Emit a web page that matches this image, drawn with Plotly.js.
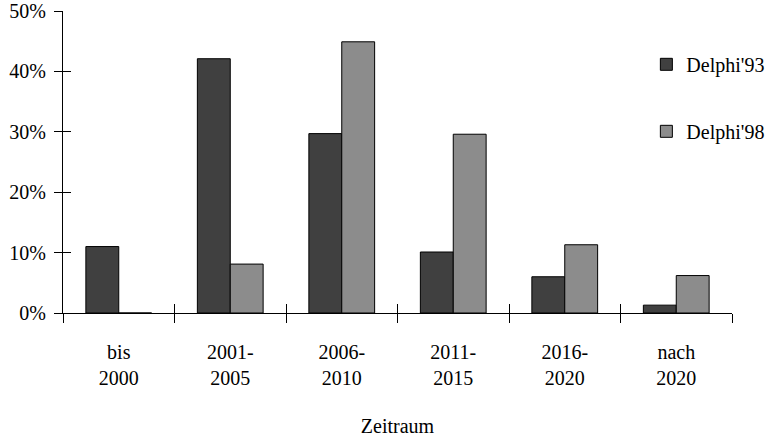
<!DOCTYPE html>
<html><head><meta charset="utf-8">
<script src="https://cdn.plot.ly/plotly-3.0.1.min.js"></script>
<style>
html,body{margin:0;padding:0;background:#fff}
#chart text{font-family:'Liberation Serif',serif !important}
</style>
</head><body><div id="chart"></div>
<script>
const categories = ['bis<br>2000', '2001-<br>2005', '2006-<br>2010', '2011-<br>2015', '2016-<br>2020', 'nach<br>2020'];
const delphi93 = [11.0, 42.1, 29.7, 10.1, 6.0, 1.3];
const delphi98 = [0, 8.1, 44.9, 29.6, 11.3, 6.2];
const yTickVals = [0, 10, 20, 30, 40, 50];
const yTickText = ['0%', '10%', '20%', '30%', '40%', '50%'];

function mkFont() { return {family: 'Liberation Serif', size: 20, color: '#000000'}; }

const traces = [
  {type: 'bar', name: "Delphi'93", x: categories, y: delphi93, legendgroup: 'a',
   marker: {color: '#404040', line: {color: '#000', width: 1}}, hoverinfo: 'skip'},
  {type: 'bar', name: "Delphi'98", x: categories, y: delphi98, legendgroup: 'b',
   marker: {color: '#8c8c8c', line: {color: '#000', width: 1}}, hoverinfo: 'skip'}
];

const layout = {
  width: 781, height: 437,
  margin: {l: 63, r: 45, t: 11, b: 124},
  paper_bgcolor: '#fff', plot_bgcolor: '#fff',
  font: mkFont(),
  barmode: 'group', bargap: 0.41, bargroupgap: 0,
  showlegend: true,
  legend: {x: 0.872, y: 0.888, xanchor: 'left', yanchor: 'top', tracegroupgap: 38,
           font: mkFont(), bgcolor: 'rgba(0,0,0,0)', itemwidth: 30},
  xaxis: {type: 'category', showgrid: false, zeroline: false,
          showline: true, linecolor: '#000', linewidth: 1,
          ticks: 'outside', ticklen: 9, tickcolor: '#000', tickwidth: 1,
          tickson: 'boundaries', ticklabelstandoff: 21,
          tickfont: mkFont(), fixedrange: true,
          title: {text: 'Zeitraum', font: mkFont(), standoff: 30}},
  xaxis2: {overlaying: 'x', anchor: 'y', side: 'bottom', range: [-0.5, 5.5],
           tickmode: 'linear', tick0: -0.5, dtick: 1, ticks: 'inside', ticklen: 9,
           tickcolor: '#000', showticklabels: false, showline: false,
           showgrid: false, zeroline: false},
  yaxis: {range: [0, 50], tickmode: 'array', tickvals: yTickVals, ticktext: yTickText,
          showgrid: false, zeroline: false,
          showline: true, linecolor: '#000', linewidth: 1,
          ticks: 'outside', ticklen: 8, tickcolor: '#000', tickwidth: 1,
          ticklabelstandoff: 4, tickfont: mkFont(), fixedrange: true},
  yaxis2: {overlaying: 'y', anchor: 'x', side: 'left', range: [0, 50],
           tickmode: 'array', tickvals: yTickVals, ticks: 'inside', ticklen: 8,
           tickcolor: '#000', showticklabels: false, showline: false,
           showgrid: false, zeroline: false}
};

// invisible trace to activate the overlay axes used for crossing ticks
traces.push({type: 'scatter', x: [0], y: [0], xaxis: 'x2', yaxis: 'y2', mode: 'markers',
             marker: {opacity: 0}, showlegend: false, hoverinfo: 'skip'});

Plotly.newPlot('chart', traces, layout, {displayModeBar: false, staticPlot: true});
</script></body></html>
